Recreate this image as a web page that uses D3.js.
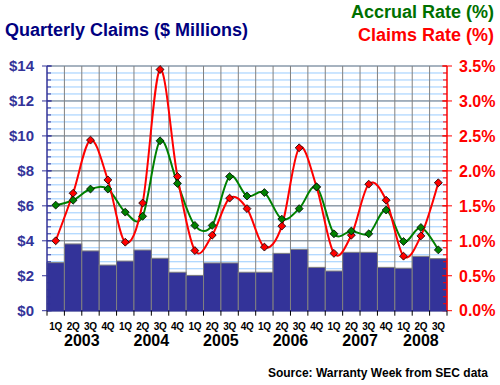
<!DOCTYPE html>
<html>
<head>
<meta charset="utf-8">
<script src="https://cdn.jsdelivr.net/npm/d3@7"></script>
<style>
  body { margin: 0; background: #fff; }
  svg text { font-family: "Liberation Sans", Arial, sans-serif; }
</style>
</head>
<body>
<div id="chart"></div>
<script>
// quarters 2003 Q1 .. 2008 Q3
const quarters = ["1Q","2Q","3Q","4Q","1Q","2Q","3Q","4Q","1Q","2Q","3Q","4Q",
  "1Q","2Q","3Q","4Q","1Q","2Q","3Q","4Q","1Q","2Q","3Q"];
const years = ["2003","2004","2005","2006","2007","2008"];

// quarterly claims ($ millions)
const claims = [2.75, 3.82, 3.42, 2.61, 2.84, 3.47, 3.0, 2.2, 2.02, 2.73, 2.73, 2.2,
  2.2, 3.28, 3.51, 2.48, 2.27, 3.34, 3.34, 2.48, 2.43, 3.11, 2.98];

// claims rate (%)
const claimsRate = [1.0, 1.68, 2.44, 1.87, 0.98, 1.54, 3.45, 1.92, 0.86, 1.08, 1.61, 1.46,
  0.91, 1.21, 2.33, 1.77, 0.82, 1.08, 1.81, 1.58, 0.78, 1.07, 1.83];

// accrual rate (%)
const accrualRate = [1.51, 1.58, 1.74, 1.74, 1.41, 1.35, 2.43, 1.82, 1.22, 1.22, 1.92, 1.64,
  1.69, 1.31, 1.46, 1.77, 1.10, 1.14, 1.10, 1.44, 0.99, 1.19, 0.87];

const leftTicks = [0, 2, 4, 6, 8, 10, 12, 14];
const rightTicks = [0, 0.5, 1, 1.5, 2, 2.5, 3, 3.5];

const width = 500, height = 385;
const plotL = 47, plotR = 447, plotT = 66, plotB = 310.7;

const svg = d3.select("#chart").append("svg")
  .attr("width", width)
  .attr("height", height);

const idx = d3.range(quarters.length);
const x = d3.scaleBand().domain(idx).range([plotL, plotR]).padding(0);
const yL = d3.scaleLinear().domain([0, 14]).range([plotB, plotT]);
const yR = d3.scaleLinear().domain([0, 3.5]).range([plotB, plotT]);

// minor grid (every 0.1%)
const minor = d3.range(0, 3.5001, 0.1);
svg.append("g").selectAll("line")
  .data(minor)
  .join("line")
  .attr("x1", plotL).attr("x2", plotR)
  .attr("y1", d => yR(d)).attr("y2", d => yR(d))
  .attr("stroke", "#99CCFF").attr("stroke-width", 1);

// major grid
svg.append("g").selectAll("line")
  .data(leftTicks)
  .join("line")
  .attr("x1", plotL).attr("x2", plotR)
  .attr("y1", d => yL(d)).attr("y2", d => yL(d))
  .attr("stroke", "#808080").attr("stroke-width", 1);

// vertical grid
svg.append("g").selectAll("line")
  .data(d3.range(1, quarters.length))
  .join("line")
  .attr("x1", d => plotL + d * x.bandwidth()).attr("x2", d => plotL + d * x.bandwidth())
  .attr("y1", plotT).attr("y2", plotB)
  .attr("stroke", "#808080").attr("stroke-width", 1);

// bars
svg.append("g").selectAll("rect")
  .data(claims)
  .join("rect")
  .attr("x", (d, i) => x(i))
  .attr("y", d => yL(d))
  .attr("width", x.bandwidth())
  .attr("height", d => plotB - yL(d))
  .attr("fill", "#333399")
  .attr("stroke", "#808080")
  .attr("stroke-width", 1);

// lines
const line = d3.line()
  .x((d, i) => x(i) + x.bandwidth() / 2)
  .y(d => yR(d))
  .curve(d3.curveCardinal.tension(0));

svg.append("path").datum(accrualRate)
  .attr("d", line).attr("fill", "none")
  .attr("stroke", "#008000").attr("stroke-width", 2);

svg.append("path").datum(claimsRate)
  .attr("d", line).attr("fill", "none")
  .attr("stroke", "#FF0000").attr("stroke-width", 2);

const diamond = d3.symbol().type(d3.symbolDiamond2).size(40);

function markers(data, color) {
  svg.append("g").selectAll("path")
    .data(data)
    .join("path")
    .attr("d", diamond)
    .attr("transform", (d, i) => `translate(${x(i) + x.bandwidth() / 2},${yR(d)})`)
    .attr("fill", color)
    .attr("stroke", "#000")
    .attr("stroke-width", 0.8);
}
markers(claimsRate, "#FF0000");
markers(accrualRate, "#008000");

// left axis
const axL = svg.append("g");
axL.append("line").attr("x1", plotL).attr("x2", plotL).attr("y1", plotT).attr("y2", plotB)
  .attr("stroke", "#333399").attr("stroke-width", 1.5);
axL.selectAll(".minor").data(minor).join("line")
  .attr("x1", plotL).attr("x2", plotL + 4)
  .attr("y1", d => yR(d)).attr("y2", d => yR(d))
  .attr("stroke", "#333399");
axL.selectAll(".major").data(leftTicks).join("line")
  .attr("x1", plotL - 5).attr("x2", plotL + 5)
  .attr("y1", d => yL(d)).attr("y2", d => yL(d))
  .attr("stroke", "#333399");
axL.selectAll("text").data(leftTicks).join("text")
  .attr("x", 34).attr("y", d => yL(d)).attr("dy", "0.36em")
  .attr("text-anchor", "end")
  .attr("font-size", 15).attr("font-weight", "bold")
  .attr("fill", "#333399")
  .text(d => "$" + d);

// right axis
const axR = svg.append("g");
axR.append("line").attr("x1", plotR).attr("x2", plotR).attr("y1", plotT).attr("y2", plotB)
  .attr("stroke", "#FF0000").attr("stroke-width", 1.5);
axR.selectAll(".minor").data(minor).join("line")
  .attr("x1", plotR - 4).attr("x2", plotR)
  .attr("y1", d => yR(d)).attr("y2", d => yR(d))
  .attr("stroke", "#FF0000");
axR.selectAll(".major").data(rightTicks).join("line")
  .attr("x1", plotR - 5).attr("x2", plotR + 5)
  .attr("y1", d => yR(d)).attr("y2", d => yR(d))
  .attr("stroke", "#FF0000");
axR.selectAll("text").data(rightTicks).join("text")
  .attr("x", 459).attr("y", d => yR(d)).attr("dy", "0.36em")
  .attr("font-size", 16).attr("font-weight", "bold")
  .attr("fill", "#FF0000")
  .text(d => d.toFixed(1) + "%");

// bottom axis
const axB = svg.append("g");
axB.append("line").attr("x1", plotL).attr("x2", plotR).attr("y1", plotB).attr("y2", plotB)
  .attr("stroke", "#333399").attr("stroke-width", 1.5);
axB.selectAll(".tick").data(d3.range(0, quarters.length + 1)).join("line")
  .attr("x1", d => plotL + d * x.bandwidth()).attr("x2", d => plotL + d * x.bandwidth())
  .attr("y1", plotB).attr("y2", plotB + 5)
  .attr("stroke", "#000");
axB.selectAll(".q").data(quarters).join("text")
  .attr("x", (d, i) => x(i) + x.bandwidth() / 2).attr("y", 330)
  .attr("text-anchor", "middle")
  .attr("font-size", 10).attr("font-weight", "bold")
  .attr("letter-spacing", -0.3)
  .attr("fill", "#000")
  .text(d => d);
axB.selectAll(".y").data(years).join("text")
  .attr("x", (d, i) => {
    const n = Math.min(4, quarters.length - i * 4);
    return plotL + (i * 4 + n / 2) * x.bandwidth();
  })
  .attr("y", 345.7)
  .attr("text-anchor", "middle")
  .attr("font-size", 16).attr("font-weight", "bold")
  .attr("fill", "#000")
  .text(d => d);

// titles
svg.append("text").attr("x", 5).attr("y", 35.6)
  .attr("font-size", 18).attr("font-weight", "bold").attr("fill", "#000080")
  .text("Quarterly Claims ($ Millions)");
svg.append("text").attr("x", 494).attr("y", 18.4).attr("text-anchor", "end")
  .attr("font-size", 18).attr("font-weight", "bold").attr("fill", "#007000")
  .text("Accrual Rate (%)");
svg.append("text").attr("x", 494).attr("y", 41.2).attr("text-anchor", "end")
  .attr("font-size", 18).attr("font-weight", "bold").attr("fill", "#FF0000")
  .text("Claims Rate (%)");
svg.append("text").attr("x", 488).attr("y", 377).attr("text-anchor", "end")
  .attr("font-size", 12).attr("font-weight", "bold").attr("fill", "#000")
  .text("Source: Warranty Week from SEC data");
</script>
</body>
</html>
